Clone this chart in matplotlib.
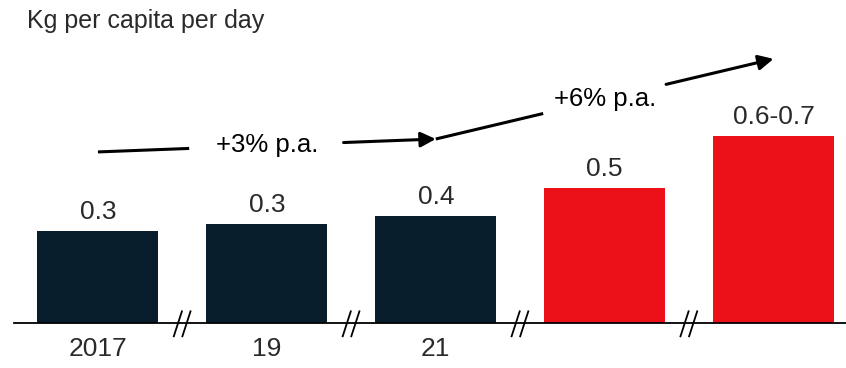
import matplotlib
matplotlib.use("Agg")
import matplotlib.pyplot as plt
from matplotlib.patches import FancyArrowPatch
import numpy as np

# Waste per capita, kg per day
years = ["2017", "19", "21", "", ""]
values = [0.315, 0.337, 0.365, 0.46, 0.637]
value_labels = ["0.3", "0.3", "0.4", "0.5", "0.6-0.7"]
is_forecast = [False, False, False, True, True]
growth_labels = ["+3% p.a.", "+6% p.a."]
# arrow heights (same units as the bars)
arrow_y = [0.583, 0.627, 0.90]

navy = "#071d2c"
red = "#ec1119"
text_col = "#2a2a2a"
font = "Liberation Sans"

fig = plt.figure(figsize=(8.46, 3.68), dpi=100)
ax = fig.add_axes([0, 0, 1, 1])
ax.set_xlim(-0.580, 4.429)
ax.set_ylim(-0.153, 1.1005)
ax.axis("off")

x = np.arange(len(values))
colors = [red if f else navy for f in is_forecast]
ax.bar(x, values, width=0.716, color=colors, zorder=2)

# baseline
ax.plot([-0.497, 4.5], [0, 0], color="black", lw=1.3, zorder=3, clip_on=False)

# axis break marks between bars
for xb in x[:-1] + 0.5:
    for dx in (-0.027, 0.024):
        ax.plot([xb + dx - 0.024, xb + dx + 0.024], [-0.045, 0.04],
                color="black", lw=1.3, zorder=4)

for xi, v, lab in zip(x, values, value_labels):
    ax.annotate(lab, (xi, v), xytext=(0, 5), textcoords="offset points",
                ha="center", va="bottom", fontsize=19, color=text_col,
                family=font)

for xi, yr in zip(x, years):
    ax.annotate(yr, (xi, 0), xytext=(0, -10), textcoords="offset points",
                ha="center", va="top", fontsize=19, color=text_col,
                family=font)

ax.text(0.032, 0.942, "Kg per capita per day", transform=fig.transFigure,
        ha="left", va="center", fontsize=18, color=text_col, family=font)

# growth arrows: bar 1 -> bar 3 -> bar 5, split by the growth label
segments = [(0, 2, 0.27, 0.727), (2, 4, 0.318, 0.682)]
for (i0, i1, t0, t1), lab in zip(segments, growth_labels):
    p0 = np.array([x[i0], arrow_y[i0 // 2]])
    p1 = np.array([x[i1], arrow_y[i1 // 2]])
    a = p0 + t0 * (p1 - p0)
    b = p0 + t1 * (p1 - p0)
    ax.plot([p0[0], a[0]], [p0[1], a[1]], color="black", lw=2.2,
            solid_capstyle="butt", zorder=5)
    ax.add_patch(FancyArrowPatch(b, p1, arrowstyle="-|>,head_length=0.6,head_width=0.3",
                                 mutation_scale=15, color="black", lw=2.2,
                                 shrinkA=0, shrinkB=0, zorder=5))
    mid = (p0 + p1) / 2
    ax.text(mid[0], mid[1], lab, ha="center", va="center", fontsize=18.5,
            color="black", family=font)

fig.savefig("out.png", dpi=100)
